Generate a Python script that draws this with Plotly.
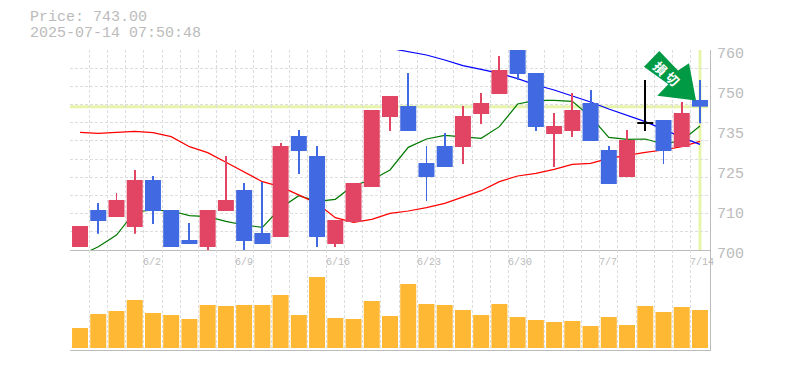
import plotly.graph_objects as go

dates = ["5/27","5/28","5/29","5/30","6/2","6/3","6/4","6/5","6/6","6/9","6/10","6/11","6/12","6/13","6/16","6/17","6/18","6/19","6/20",
         "6/23","6/24","6/25","6/26","6/27","6/30","7/1","7/2","7/3","7/4","7/7","7/8","7/9","7/10","7/11","7/14"]
labelled_dates = ["6/2","6/9","6/16","6/23","6/30","7/7","7/14"]

opens = [700.9,712,709.9,706.9,721,712,703,700.9,711.7,718,705.1,703.9,734.2,728.2,701.8,708.4,718.9,739.9,743.2,
         726.1,731.2,730.9,740.8,746.8,760,753.1,734.8,735.7,744.1,730,721.9,738,739,730.9,745]
closes = [707.2,708.7,715,721,711.7,700.9,701.8,712,715,702.7,701.8,731.2,729.7,703.9,709,720.1,742,746.2,735.7,
          721.9,724.9,740.2,744.1,754,752.8,736.9,737.2,742,732.7,719.8,733,738,729.7,741.1,743]
highs = [707.2,714.1,717.1,724,722.2,712,708.1,712,728.2,720.1,720.4,732.1,736,731.2,709,720.1,742,746.2,753.1,
         731.2,735.1,743.2,747.1,758.2,760,753.1,741.1,747.1,748,731.2,736,751,739,744.4,751]
lows = [700.9,704.9,709.9,704.9,707.8,700.9,701.8,699.8,711.7,699.8,701.8,703.9,722.8,700.9,700.9,708.4,718.9,735.7,735.7,
        714.7,724.9,725.8,737.8,746.8,751,735.7,724.9,733.9,732.7,719.8,721.9,735.7,725.8,730.9,738]

ma_short = [698.3,701,704.5,711.4,712,711.7,710.3,710,708.6,707.5,706.8,712.6,716.3,714.6,715.2,719.4,721,724,730.8,733.3,
            734.4,734,733.5,737,743.8,744.9,744.9,744.6,740,733.8,733.2,733.3,731.8,732.8,737.2]
ma_long = [735.3,735,735.3,735.6,735.2,734,731,729.2,726.3,723.3,720.5,719,716.5,714,709.7,708.3,709.2,711,711.7,712.7,
           714,715.8,717.8,720.5,722.2,723,724.2,725.7,726,727.5,728.5,729.3,730,731,732.6]
ma_mid_dates = dates[17:]
ma_mid = [760.5,759.5,758.5,757,755.3,754.2,753,751.4,749.5,748,746.3,744.4,742.3,740.5,738.5,736.2,733.8,731.7]

volumes = [200,340,370,480,350,330,290,430,420,430,430,530,330,710,300,290,470,320,
           640,440,430,380,330,440,310,280,260,270,220,310,230,420,360,410,380]

current_price = 743
y_ticks = [760,748,736,724,712,700]
y_labels = ["760","750","735","725","710","700"]

RED, BLUE, BLACK = "#e24463", "#4169e1", "#000000"
GRAY, GRID = "#bbbbbb", "#dddddd"
PALE = "#e6f5aa"
MONO = "Liberation Mono"
W, H = 785, 370
L, R, T, B = 70, 710, 50, 350
MID = 250
def px(v): return (v - L) / (R - L)
def py(v): return 1 - (v - T) / (B - T)

def candle_color(o, c):
    if o == c:
        return BLACK
    return RED if c > o else BLUE
colors = [candle_color(o, c) for o, c in zip(opens, closes)]

fig = go.Figure()
fig.add_shape(type="line", xref="x", yref="y", x0=-0.55, x1=34.45, y0=current_price, y1=current_price,
              line=dict(color=PALE, width=3), layer="below")
fig.add_shape(type="line", xref="x", yref="y", x0=34, x1=34, y0=700, y1=760,
              line=dict(color=PALE, width=3), layer="below")

common = dict(mode="lines", hoverinfo="skip", showlegend=False, cliponaxis=False)
fig.add_trace(go.Scatter(x=dates, y=ma_short, line=dict(color="#007a00", width=1.2), **common))
fig.add_trace(go.Scatter(x=dates, y=ma_long, line=dict(color="#ff0000", width=1.2), **common))
fig.add_trace(go.Scatter(x=ma_mid_dates, y=ma_mid, line=dict(color="#0000ff", width=1.2), **common))

# candles sit on an overlaid price axis so they stack above the moving averages
fig.add_trace(go.Bar(x=dates, base=lows, y=[h - l for h, l in zip(highs, lows)], yaxis="y3", width=0.05,
                     marker=dict(color=colors, line_width=0), cliponaxis=False, showlegend=False))
fig.add_trace(go.Bar(x=dates, base=[min(o, c) for o, c in zip(opens, closes)],
                     y=[max(abs(o - c), 0.2) for o, c in zip(opens, closes)], yaxis="y3", width=0.877,
                     marker=dict(color=colors, line_width=0), showlegend=False))

fig.add_trace(go.Bar(x=dates, y=volumes, xaxis="x2", yaxis="y2", marker=dict(color="#ffb833", line_width=0),
                     width=0.877, showlegend=False))

fig.update_layout(
    width=W, height=H, margin=dict(l=L, r=W-R, t=T, b=H-B, autoexpand=False), paper_bgcolor="white", plot_bgcolor="white",
    barmode="overlay", showlegend=False,
    xaxis=dict(type="category", categoryorder="array", categoryarray=dates, range=[-0.55,34.55], domain=[0,1], anchor="y",
               tickson="boundaries", showgrid=True, gridcolor=GRID, griddash="3px,2px", gridwidth=1, showticklabels=False, ticks="",
               showline=True, linecolor=GRAY, linewidth=1, zeroline=False),
    yaxis=dict(domain=[py(MID),1], range=[700,760], side="right", tickmode="array", tickvals=y_ticks, ticktext=y_labels,
               ticks="", showgrid=False, ticklabelshift=3, ticklabelstandoff=3,
               minor=dict(tick0=700, dtick=60/11, showgrid=True, gridcolor=GRID, griddash="3px,2px", gridwidth=1, ticks=""),
               tickfont=dict(family=MONO, size=15, color=GRAY), showline=True, linecolor=GRAY, linewidth=1, zeroline=False, anchor="x"),
    yaxis3=dict(domain=[py(MID),1], range=[700,760], overlaying="y", side="right", visible=False, showgrid=False, zeroline=False, anchor="x"),
    xaxis2=dict(type="category", categoryorder="array", categoryarray=dates, range=[-0.55,34.55], domain=[0,1], anchor="y2",
                tickson="boundaries", showgrid=True, gridcolor=GRID, griddash="3px,2px", gridwidth=1, showticklabels=False, ticks="",
                showline=True, linecolor=GRAY, linewidth=1, zeroline=False),
    yaxis2=dict(domain=[0,py(MID)], range=[-20,980], side="right", showticklabels=False, ticks="", showgrid=False,
                showline=True, linecolor=GRAY, linewidth=1, zeroline=False, anchor="x2"),
)

for text, yc in (("Price: 743.00", 18), ("2025-07-14 07:50:48", 33)):
    fig.add_annotation(xref="paper", yref="paper", x=px(30), y=py(yc), xanchor="left", yanchor="middle", showarrow=False,
                       borderpad=0, borderwidth=0, text=text, font=dict(family=MONO, size=15, color=GRAY))
for d in labelled_dates:
    fig.add_annotation(xref="x2", yref="y2 domain", x=d, y=1, xanchor="left", yanchor="top", xshift=-11.5, yshift=-5, showarrow=False,
                       text=d, font=dict(family=MONO, size=10, color=GRAY))

# signal arrow
verts = [(659.3,51),(678,70.5),(689,63.3),(696,100.5),(657.3,95.7),(668.3,84.3),(644,66.7)]
path = "M " + " L ".join(f"{px(a):.5f},{py(b):.5f}" for a, b in verts) + " Z"
fig.add_shape(type="path", xref="paper", yref="paper", path=path, fillcolor="#009944", line=dict(width=0), layer="above")
for ch, xc, yc in (("損", 660.7, 68.3), ("切", 672.3, 78.8)):
    fig.add_annotation(xref="paper", yref="paper", x=px(xc), y=py(yc), xanchor="center", yanchor="middle", showarrow=False,
                       textangle=45, text=ch, font=dict(family="Noto Sans CJK JP", size=13, color="#ffffff", weight=700))

fig.write_html("out.html", post_script="document.body.style.margin='0';", config=dict(displayModeBar=False))
